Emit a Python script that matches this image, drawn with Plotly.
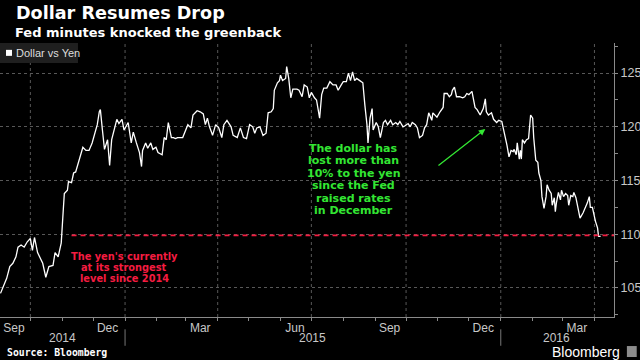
import plotly.graph_objects as go
import pandas as pd

# ---------------- data ----------------
dates_2014 = ["2014-09-02", "2014-09-05", "2014-09-08", "2014-09-11", "2014-09-14", "2014-09-17",
              "2014-09-19", "2014-09-22", "2014-09-25", "2014-09-28", "2014-10-01", "2014-10-03",
              "2014-10-05", "2014-10-08", "2014-10-10", "2014-10-13", "2014-10-16", "2014-10-19",
              "2014-10-23", "2014-10-25", "2014-10-28", "2014-10-31", "2014-11-02", "2014-11-03",
              "2014-11-06", "2014-11-07", "2014-11-10", "2014-11-12", "2014-11-14", "2014-11-17",
              "2014-11-21", "2014-11-24", "2014-11-27", "2014-11-30", "2014-12-03", "2014-12-05",
              "2014-12-07", "2014-12-08", "2014-12-10", "2014-12-12", "2014-12-15", "2014-12-17",
              "2014-12-19", "2014-12-22", "2014-12-24", "2014-12-26", "2014-12-29", "2014-12-31"]
usdjpy_2014 = [104.5, 105.3, 105.9, 107.0, 107.3, 107.9,
               108.8, 109.0, 108.8, 109.3, 109.6, 108.5,
               109.7, 108.3, 107.9, 107.3, 106.0, 107.0,
               107.1, 108.3, 107.9, 109.2, 112.3, 113.8,
               114.1, 114.9, 114.8, 115.7, 115.8, 116.9,
               118.1, 117.8, 117.8, 118.5, 119.4, 120.2,
               121.4, 121.6, 119.7, 117.9, 118.8, 116.4,
               118.8, 120.0, 120.7, 120.3, 120.7, 119.7]

dates_2015 = ["2015-01-04", "2015-01-07", "2015-01-09", "2015-01-12", "2015-01-15", "2015-01-17",
              "2015-01-18", "2015-01-21", "2015-01-23", "2015-01-26", "2015-01-28", "2015-01-31",
              "2015-02-02", "2015-02-06", "2015-02-08", "2015-02-10", "2015-02-12", "2015-02-15",
              "2015-02-17", "2015-02-19", "2015-02-21", "2015-02-26", "2015-03-01", "2015-03-03",
              "2015-03-06", "2015-03-08", "2015-03-12", "2015-03-15", "2015-03-18", "2015-03-20",
              "2015-03-22", "2015-03-24", "2015-03-26", "2015-03-27", "2015-03-30", "2015-04-02",
              "2015-04-05", "2015-04-07", "2015-04-10", "2015-04-14", "2015-04-16", "2015-04-20",
              "2015-04-23", "2015-04-26", "2015-04-29", "2015-05-02", "2015-05-05", "2015-05-07",
              "2015-05-09", "2015-05-12", "2015-05-15", "2015-05-18", "2015-05-20", "2015-05-23",
              "2015-05-25", "2015-05-26", "2015-05-29", "2015-05-31", "2015-06-01", "2015-06-03",
              "2015-06-06", "2015-06-07", "2015-06-09", "2015-06-11", "2015-06-13", "2015-06-17",
              "2015-06-19", "2015-06-22", "2015-06-24", "2015-06-27", "2015-06-29", "2015-07-01",
              "2015-07-04", "2015-07-06", "2015-07-09", "2015-07-11", "2015-07-13", "2015-07-16",
              "2015-07-19", "2015-07-22", "2015-07-25", "2015-07-27", "2015-07-30", "2015-08-01",
              "2015-08-04", "2015-08-06", "2015-08-08", "2015-08-10", "2015-08-12", "2015-08-14",
              "2015-08-17", "2015-08-20", "2015-08-22", "2015-08-24", "2015-08-25", "2015-08-27",
              "2015-08-29", "2015-08-30", "2015-09-02", "2015-09-04", "2015-09-06", "2015-09-08",
              "2015-09-09", "2015-09-11", "2015-09-13", "2015-09-16", "2015-09-18", "2015-09-21",
              "2015-09-23", "2015-09-25", "2015-09-28", "2015-09-30", "2015-10-03", "2015-10-05",
              "2015-10-07", "2015-10-10", "2015-10-12", "2015-10-14", "2015-10-17", "2015-10-19",
              "2015-10-21", "2015-10-23", "2015-10-26", "2015-10-27", "2015-10-31", "2015-11-03",
              "2015-11-06", "2015-11-07", "2015-11-10", "2015-11-12", "2015-11-14", "2015-11-15",
              "2015-11-17", "2015-11-19", "2015-11-22", "2015-11-25", "2015-11-27", "2015-11-29",
              "2015-12-01", "2015-12-04", "2015-12-05", "2015-12-07", "2015-12-09", "2015-12-12",
              "2015-12-15", "2015-12-17", "2015-12-18", "2015-12-20", "2015-12-23", "2015-12-25",
              "2015-12-28", "2015-12-30"]
usdjpy_2015 = [120.4, 118.5, 119.5, 118.5, 117.6, 116.3,
               117.8, 118.5, 118.0, 118.5, 117.9, 118.1,
               117.6, 117.4, 119.0, 118.8, 120.4, 119.0,
               119.0, 118.9, 119.0, 119.0, 119.7, 120.2,
               119.9, 121.1, 121.5, 121.4, 121.2, 120.2,
               120.8, 120.0, 119.5, 119.2, 120.2, 119.9,
               119.0, 120.2, 120.6, 120.0, 119.2, 119.0,
               119.9, 119.0, 118.9, 120.2, 120.0, 119.4,
               119.9, 120.0, 119.2, 119.4, 121.3, 121.4,
               121.7, 123.4, 124.1, 124.3, 124.8, 124.3,
               124.5, 125.6, 124.5, 122.7, 123.5, 123.5,
               123.4, 122.8, 123.9, 123.7, 122.7, 123.2,
               122.7, 122.5, 120.8, 123.0, 123.6, 123.6,
               124.2, 123.9, 123.9, 123.4, 123.9, 124.2,
               124.2, 125.0, 124.3, 125.1, 124.3, 124.5,
               124.3, 124.1, 122.0, 120.2, 118.5, 120.8,
               121.7, 119.7, 120.4, 120.0, 119.0, 120.2,
               120.4, 120.6, 120.2, 120.6, 120.2, 120.4,
               120.2, 120.5, 120.0, 120.1, 120.3, 120.0,
               120.4, 120.2, 119.9, 119.0, 119.2, 119.9,
               120.2, 121.3, 120.6, 121.3, 120.9, 121.4,
               121.8, 123.1, 123.1, 122.8, 123.0, 123.4,
               123.7, 122.8, 122.8, 122.7, 122.8, 123.1,
               123.0, 123.3, 122.8, 121.8, 121.6, 121.1,
               121.7, 122.6, 121.4, 121.1, 121.3, 120.7,
               120.4, 120.6]

dates_2016 = ["2016-01-02", "2016-01-04", "2016-01-06", "2016-01-07", "2016-01-09", "2016-01-11",
              "2016-01-13", "2016-01-14", "2016-01-16", "2016-01-17", "2016-01-19", "2016-01-20",
              "2016-01-21", "2016-01-22", "2016-01-24", "2016-01-26", "2016-01-28", "2016-01-30",
              "2016-02-01", "2016-02-02", "2016-02-04", "2016-02-06", "2016-02-07", "2016-02-09",
              "2016-02-10", "2016-02-12", "2016-02-14", "2016-02-15", "2016-02-17", "2016-02-19",
              "2016-02-20", "2016-02-22", "2016-02-23", "2016-02-24", "2016-02-26", "2016-02-28",
              "2016-02-29", "2016-03-02", "2016-03-04", "2016-03-06", "2016-03-07", "2016-03-09",
              "2016-03-11", "2016-03-12", "2016-03-14", "2016-03-16", "2016-03-18", "2016-03-21",
              "2016-03-23", "2016-03-25", "2016-03-27", "2016-03-28", "2016-03-30", "2016-03-31",
              "2016-04-02", "2016-04-04", "2016-04-05", "2016-04-07"]
usdjpy_2016 = [120.5, 119.6, 118.9, 118.3, 117.2, 117.8,
               117.7, 117.9, 117.4, 118.5, 117.0, 117.8,
               117.0, 118.8, 118.5, 118.8, 118.9, 121.1,
               120.8, 119.0, 116.9, 116.7, 115.7, 115.0,
               113.5, 112.4, 113.5, 114.6, 114.1, 113.8,
               112.7, 113.4, 112.1, 112.9, 113.9, 113.2,
               114.1, 113.5, 113.8, 113.6, 112.7, 113.6,
               113.5, 113.9, 113.4, 112.5, 111.5, 112.0,
               112.4, 112.9, 113.5, 112.5, 112.5, 112.0,
               111.2, 110.6, 109.8, 109.8]

# axis / label settings
x_range = ["2014-09-01 12:00", "2016-04-20"]
y_range = [102.3, 127.8]
y_ticks = [105, 110, 115, 120, 125]
month_label_dates = ["2014-09-15", "2014-12-15", "2015-03-15", "2015-06-15",
                     "2015-09-15", "2015-12-15", "2016-03-15"]
month_labels = ["Sep", "Dec", "Mar", "Jun", "Sep", "Dec", "Mar"]
quarter_starts = ["2014-10-01", "2015-01-01", "2015-04-01", "2015-07-01",
                  "2015-10-01", "2016-01-01", "2016-04-01"]
year_starts = ["2015-01-01", "2016-01-01"]
year_labels = ["2014", "2015", "2016"]
year_label_dates = ["2014-11-01", "2015-07-02", "2016-02-24"]

yen_level = 109.9
yen_level_start = "2014-11-10"

green_note_lines = ["The dollar has", "lost more than", "10% to the yen",
                    "since the Fed", "raised rates", "in December"]
green_note_x = "2015-08-11"
green_note_top, green_note_step = 118.0, 1.165
red_note_lines = ["The yen's currently", "at its strongest", "level since 2014"]
red_note_x = "2014-12-31"
red_note_top, red_note_step = 107.9, 1.0
arrow_tail = ("2015-10-31", 116.3)
arrow_head = ("2015-12-17", 119.8)

# ---------------- figure ----------------
dates = pd.to_datetime(dates_2014 + dates_2015 + dates_2016)
usdjpy = usdjpy_2014 + usdjpy_2015 + usdjpy_2016
assert len(dates) == len(usdjpy)

GREEN = "#33e633"
RED = "#f51c40"
GRID = "#585858"
AXIS = "#8a8a8a"
LABEL = "#c8c8c8"

fig = go.Figure()
fig.add_trace(go.Scatter(x=dates, y=usdjpy, mode="lines", name="Dollar vs Yen",
                         line=dict(color="white", width=1.3), showlegend=False,
                         hoverinfo="x+y"))

shapes = []
for d in quarter_starts:
    shapes.append(dict(type="line", xref="x", yref="paper", x0=d, x1=d, y0=0, y1=1,
                       line=dict(color=GRID, width=1, dash="dot"), layer="below"))
for d in year_starts:
    shapes.append(dict(type="line", xref="x", yref="paper", x0=d, x1=d, y0=-0.045, y1=-0.105,
                       line=dict(color="#777777", width=1)))
shapes.append(dict(type="line", xref="x", yref="y", x0=yen_level_start, x1=x_range[1],
                   y0=yen_level, y1=yen_level, line=dict(color=RED, width=1.6, dash="5px,4px")))
# legend box (manual, to match compact Bloomberg legend)
shapes.append(dict(type="rect", xref="paper", yref="paper", x0=0, x1=0.127, y0=0.927, y1=1.0,
                   fillcolor="#1f1f1f", line=dict(width=0)))
shapes.append(dict(type="rect", xref="paper", yref="paper", x0=0.0098, x1=0.0195, y0=0.953, y1=0.975,
                   fillcolor="white", line=dict(width=0)))
# Bloomberg logo square
shapes.append(dict(type="rect", xref="paper", yref="paper", x0=1.021, x1=1.037, y0=-0.146, y1=-0.106,
                   fillcolor="#8c8c8c", line=dict(width=0)))

annotations = [
    dict(text="<b>Dollar Resumes Drop</b>", xref="paper", yref="paper", x=0.0228, y=1.108,
         xanchor="left", yanchor="middle", showarrow=False,
         font=dict(family="DejaVu Sans", size=17.6, color="white")),
    dict(text="<b>Fed minutes knocked the greenback</b>", xref="paper", yref="paper", x=0.021, y=1.040,
         xanchor="left", yanchor="middle", showarrow=False,
         font=dict(family="DejaVu Sans", size=13, color="white")),
    dict(text="Dollar vs Yen", xref="paper", yref="paper", x=0.0228, y=0.9635,
         xanchor="left", yanchor="middle", showarrow=False,
         font=dict(family="Liberation Sans", size=11, color="#dddddd")),
    dict(text="<b>Source: Bloomberg</b>", xref="paper", yref="paper", x=0.0081, y=-0.131,
         xanchor="left", yanchor="middle", showarrow=False,
         font=dict(family="DejaVu Sans Mono", size=9.8, color="white")),
    dict(text="Bloomberg", xref="paper", yref="paper", x=1.013, y=-0.128,
         xanchor="right", yanchor="middle", showarrow=False,
         font=dict(family="Liberation Sans", size=14, color="white")),
    dict(text="", xref="x", yref="y", axref="x", ayref="y",
         x=arrow_head[0], y=arrow_head[1], ax=arrow_tail[0], ay=arrow_tail[1],
         showarrow=True, arrowhead=2, arrowsize=1, arrowwidth=1.3, arrowcolor=GREEN),
]
for i, line in enumerate(green_note_lines):
    annotations.append(dict(text="<b>" + line + "</b>", xref="x", yref="y", x=green_note_x,
                            y=green_note_top - i * green_note_step, xanchor="center", yanchor="middle",
                            showarrow=False, font=dict(family="DejaVu Sans", size=11, color=GREEN)))
for i, line in enumerate(red_note_lines):
    annotations.append(dict(text="<b>" + line + "</b>", xref="x", yref="y", x=red_note_x,
                            y=red_note_top - i * red_note_step, xanchor="center", yanchor="middle",
                            showarrow=False, font=dict(family="DejaVu Sans", size=9.8, color=RED)))
for lab, d in zip(year_labels, year_label_dates):
    annotations.append(dict(text=lab, xref="x", yref="paper", x=d, y=-0.077, xanchor="center",
                            yanchor="middle", showarrow=False,
                            font=dict(family="Liberation Sans", size=12, color=LABEL)))

fig.update_layout(
    width=640, height=360,
    margin=dict(l=0, r=26, t=43, b=43),
    paper_bgcolor="black", plot_bgcolor="black",
    showlegend=False,
    shapes=shapes, annotations=annotations,
    xaxis=dict(type="date", range=x_range, tickmode="array", tickvals=month_label_dates,
               ticktext=month_labels, ticks="", showgrid=False, zeroline=False,
               showline=True, linecolor=AXIS, linewidth=1,
               tickfont=dict(family="Liberation Sans", size=12, color=LABEL),
               minor=dict(tickmode="array", tickvals=pd.date_range("2014-10-01", "2016-04-01", freq="MS"),
                          ticks="outside", ticklen=3, tickcolor=AXIS, showgrid=False)),
    yaxis=dict(side="right", range=y_range, tickmode="array", tickvals=y_ticks,
               ticks="outside", ticklen=3, tickcolor=AXIS, showline=True, linecolor=AXIS,
               showgrid=True, gridcolor=GRID, griddash="dot", gridwidth=1, zeroline=False,
               tickfont=dict(family="Liberation Sans", size=12.5, color=LABEL),
               minor=dict(dtick=2.5, tick0=0, ticks="outside", ticklen=3, tickcolor=AXIS, showgrid=False)),
)

fig.write_html("out.html", config={"displayModeBar": False},
               post_script="document.body.style.margin='0';document.body.style.overflow='hidden';")
